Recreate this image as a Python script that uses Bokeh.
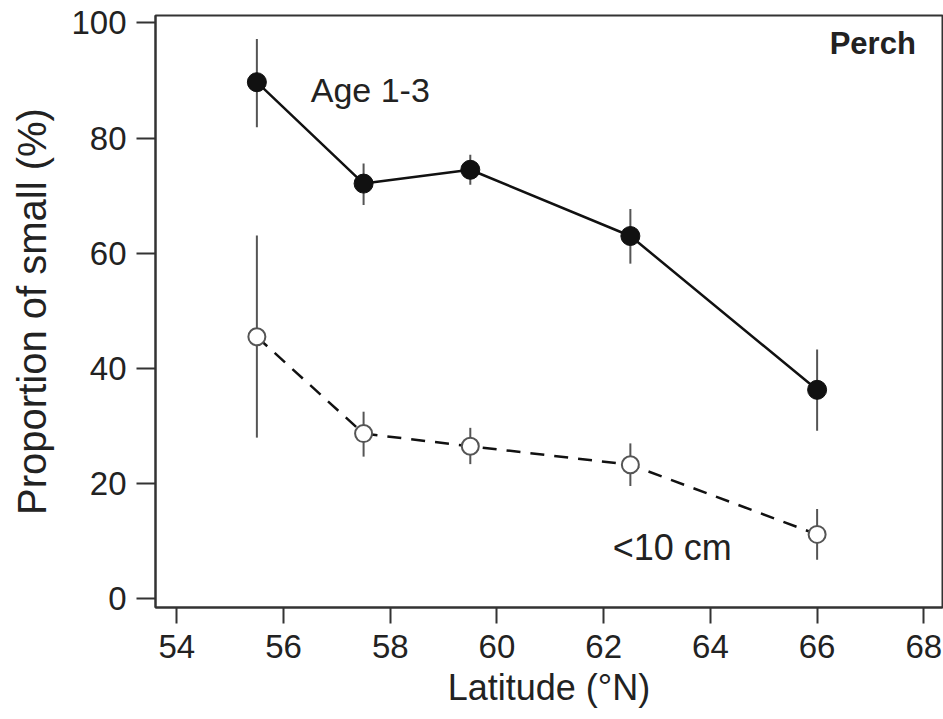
from bokeh.plotting import figure
from bokeh.embed import file_html
from bokeh.resources import INLINE
from bokeh.models import Range1d, FixedTicker, Label

# Data
latitude = [55.5, 57.5, 59.5, 62.5, 66.0]
age13 = [89.7, 72.1, 74.5, 63.0, 36.3]
age13_lo = [81.9, 68.4, 71.9, 58.2, 29.2]
age13_hi = [97.2, 75.6, 77.1, 67.7, 43.3]
small = [45.5, 28.7, 26.5, 23.3, 11.2]
small_lo = [28.0, 24.7, 23.4, 19.6, 6.8]
small_hi = [63.1, 32.5, 29.7, 27.0, 15.6]
x_ticks = [54, 56, 58, 60, 62, 64, 66, 68]
y_ticks = [0, 20, 40, 60, 80, 100]

FONT = "Liberation Sans"
AX = "#333333"

p = figure(width=943, height=719, output_backend="svg", toolbar_location=None,
           x_range=Range1d(53.60, 68.35), y_range=Range1d(-1.49, 101.28),
           min_border_left=155, min_border_right=1, min_border_top=15,
           min_border_bottom=112)
p.background_fill_color = "white"
p.border_fill_color = "white"
p.grid.visible = False
p.outline_line_color = AX
p.outline_line_width = 2
p.outline_line_alpha = 1.0

for ax in (p.xaxis[0], p.yaxis[0]):
    ax.axis_line_color = AX
    ax.axis_line_width = 2
    ax.major_tick_line_color = AX
    ax.major_tick_line_width = 2
    ax.minor_tick_line_color = None
    ax.major_tick_in = 0
    ax.major_label_text_font = FONT
    ax.major_label_text_font_size = "33px"
    ax.major_label_text_color = "#222222"
    ax.axis_label_text_font = FONT
    ax.axis_label_text_font_style = "normal"
    ax.axis_label_text_color = "#222222"

p.xaxis.ticker = FixedTicker(ticks=x_ticks)
p.yaxis.ticker = FixedTicker(ticks=y_ticks)
p.xaxis.major_tick_out = 16
p.yaxis.major_tick_out = 19
p.xaxis.major_label_standoff = 11
p.yaxis.major_label_standoff = 10
p.xaxis.axis_label = "Latitude (°N)"
p.yaxis.axis_label = "Proportion of small (%)"
p.xaxis.axis_label_text_font_size = "36px"
p.yaxis.axis_label_text_font_size = "40px"
p.xaxis.axis_label_standoff = 6
p.yaxis.axis_label_standoff = 14

# lines
p.line(latitude, age13, line_color="#111111", line_width=2.5)
p.line(latitude, small, line_color="#111111", line_width=2.5, line_dash="14 10")

# error bars
p.segment(x0=latitude, y0=age13_lo, x1=latitude, y1=age13_hi, line_color="#555555", line_width=2)
p.segment(x0=latitude, y0=small_lo, x1=latitude, y1=small_hi, line_color="#555555", line_width=2)

# markers
p.scatter(latitude, age13, size=19, fill_color="#111111", line_color="#111111", line_width=1)
p.scatter(latitude, small, size=17, fill_color="white", line_color="#555555", line_width=2)

p.add_layout(Label(x=56.51, y=88.4, text="Age 1-3", text_font=FONT, text_font_size="34px",
                   text_color="#222222", text_baseline="middle", text_align="left"))
p.add_layout(Label(x=62.17, y=9.0, text="<10 cm", text_font=FONT, text_font_size="36px",
                   text_color="#222222", text_baseline="middle", text_align="left"))
p.add_layout(Label(x=67.85, y=96.5, text="Perch", text_font=FONT, text_font_size="31px",
                   text_font_style="bold", text_color="#222222", text_baseline="middle",
                   text_align="right"))

open("out.html", "w").write(file_html(p, INLINE))
